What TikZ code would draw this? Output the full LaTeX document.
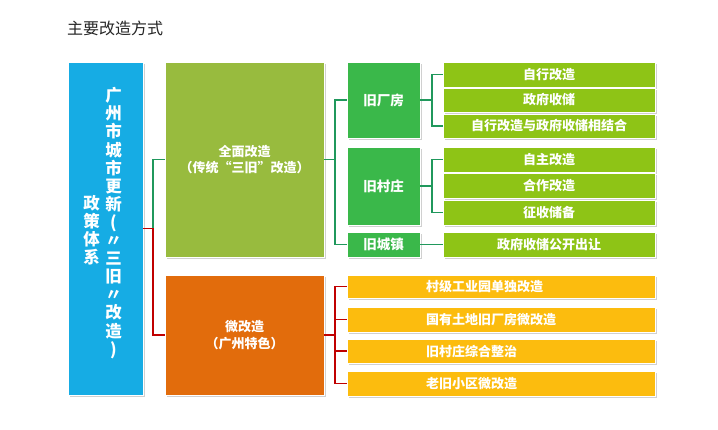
\documentclass[tikz,border=0pt]{standalone}
\usepackage{fontspec}
\setmainfont{Noto Sans CJK SC}
\usetikzlibrary{shadows}
\definecolor{cblue}{RGB}{22,172,228}
\definecolor{cbig}{RGB}{152,187,62}
\definecolor{cmid}{RGB}{58,184,74}
\definecolor{clime}{RGB}{142,196,22}
\definecolor{corange}{RGB}{226,108,12}
\definecolor{cyellow}{RGB}{252,188,14}
\definecolor{cgline}{RGB}{32,152,92}
\definecolor{crline}{RGB}{192,0,0}
\newcommand{\vch}[1]{\makebox[16pt][c]{#1}}
\tikzset{
  box/.style={draw=white, line width=0.8pt, text=white, inner sep=0pt, align=center,
    font=\fontsize{13}{16.5}\selectfont\bfseries,
    drop shadow={shadow xshift=1.6pt, shadow yshift=-1.6pt, opacity=0.3, fill=black!60}},
  bluebox/.style={box, fill=cblue, minimum width=75pt, minimum height=333pt},
  bigbox/.style={box, fill=cbig, minimum width=159pt, minimum height=195pt},
  orbox/.style={box, fill=corange, minimum width=159pt, minimum height=120pt},
  midbox/.style={box, fill=cmid, minimum width=73pt, font=\fontsize{13.5}{16}\selectfont\bfseries},
  limebox/.style={box, fill=clime, minimum width=212pt},
  yelbox/.style={box, fill=cyellow, minimum width=308pt, text width=150pt, align=left},
  vtext/.style={text=white, inner sep=0pt, align=center, font=\fontsize{16.5}{18.1}\selectfont\bfseries},
  gline/.style={draw=cgline, line width=1.4pt},
  rline/.style={draw=crline, line width=1.4pt},
}
\begin{document}
\begin{tikzpicture}[x=1pt, y=-1pt]
\useasboundingbox (0,0) rectangle (718,430);
\fill[white] (0,0) rectangle (718,430);
\node[anchor=west, inner sep=0pt, font=\fontsize{16}{18}\selectfont, text=black!85] (title) at (67,28) {主要改造方式};

\node[bluebox] (blue) at (105.5,228.5) {};
\node[vtext] (vt1) at (113.5,223) {广\\州\\市\\城\\市\\更\\新\\(\\〃\\三\\旧\\〃\\改\\造\\)};
\node[vtext] (vt2) at (91.5,230) {政\\策\\体\\系};

\node[bigbox] (big) at (244.5,159.5) {全面改造\\（传统“三旧”改造）};
\node[orbox] (orange) at (244.5,335) {微改造\\（广州特色）};

\node[midbox, minimum height=76pt] (factory) at (383.5,100) {旧厂房};
\node[midbox, minimum height=78pt] (village) at (383.5,186) {旧村庄};
\node[midbox, minimum height=25pt] (town) at (383.5,244.5) {旧城镇};

\node[limebox, minimum height=25pt] (r1) at (549,74.5) {自行改造};
\node[limebox, minimum height=24pt] (r2) at (549,100) {政府收储};
\node[limebox, minimum height=24pt] (r3) at (549,126) {自行改造与政府收储相结合};
\node[limebox, minimum height=25pt] (r4) at (549,159.5) {自主改造};
\node[limebox, minimum height=25pt] (r5) at (549,185.5) {合作改造};
\node[limebox, minimum height=25pt] (r6) at (549,212.5) {征收储备};
\node[limebox, minimum height=25pt] (r7) at (549,244.5) {政府收储公开出让};

\node[yelbox, minimum height=23pt] (y1) at (501,286.5) {村级工业园单独改造};
\node[yelbox, minimum height=25pt] (y2) at (501,319.5) {国有土地旧厂房微改造};
\node[yelbox, minimum height=24pt] (y3) at (501,351) {旧村庄综合整治};
\node[yelbox, minimum height=25pt] (y4) at (501,383.5) {老旧小区微改造};

% connectors
\coordinate (jA) at (153,228.5);
\coordinate (jB) at (335,159.5);
\coordinate (jC) at (432,100);
\coordinate (jE) at (432,186);
\coordinate (jD) at (335,335);

\draw[gline] (jA) |- (big.west);
\draw[rline] (blue.east) -- (jA) |- (orange.west);

\draw[gline] (big.east) -- (jB);
\draw[gline] (factory.west) -| (jB) |- (town.west);

\draw[gline] (factory.east) -- (jC);
\draw[gline] (r1.west) -| (jC) |- (r3.west);
\draw[gline] (village.east) -- (jE);
\draw[gline] (r4.west) -| (jE) |- (r6.west);
\draw[gline] (town.east) -- (r7.west);

\draw[rline] (orange.east) -- (jD);
\draw[rline] (y1.west) -| (jD) |- (y4.west);
\draw[rline] (jD |- y2.west) -- (y2.west);
\draw[rline] (jD |- y3.west) -- (y3.west);
\end{tikzpicture}
\end{document}
